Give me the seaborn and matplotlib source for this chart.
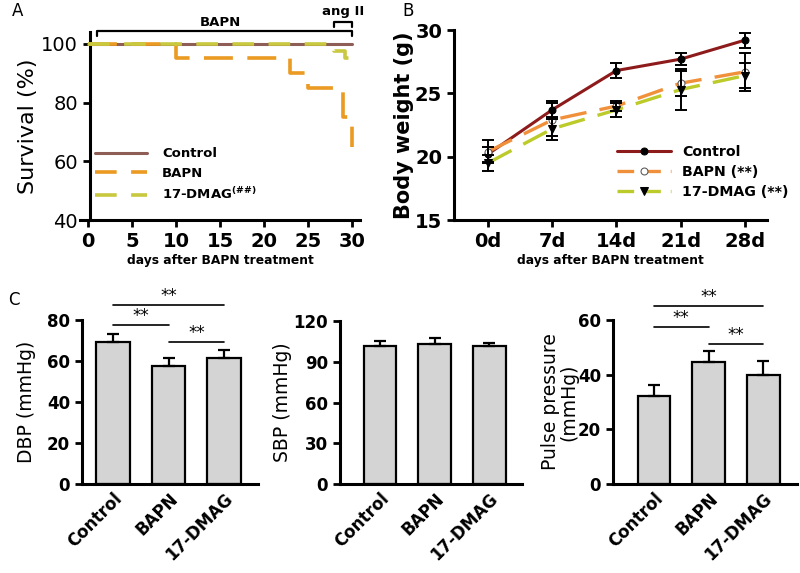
import numpy as np
import pandas as pd
import matplotlib
matplotlib.use("Agg")
import matplotlib.pyplot as plt
import seaborn as sns

# ---------------- data ----------------
# Panel A: survival (step curves)
ctrl_days = [0, 30]
ctrl_surv = [100, 100]
bapn_days = [0, 10, 23, 25, 29, 30]
bapn_surv = [100, 95, 90, 85, 75, 65]
dmag_days = [0, 28, 29.2, 29.6]
dmag_surv = [100, 97.5, 95, 95]

# Panel B: body weight
bw_days = [0, 7, 14, 21, 28]
bw_labels = ["0d", "7d", "14d", "21d", "28d"]
bw_ctrl = [20.2, 23.7, 26.8, 27.7, 29.2]
bw_ctrl_err = [0.6, 0.7, 0.6, 0.45, 0.6]
bw_bapn = [20.4, 22.9, 24.0, 25.8, 26.7]
bw_bapn_err = [0.9, 1.3, 0.4, 1.0, 1.5]
bw_dmag = [19.5, 22.2, 23.7, 25.3, 26.4]
bw_dmag_err = [0.6, 0.9, 0.55, 1.6, 1.0]

# Panel C: blood pressure
groups = ["Control", "BAPN", "17-DMAG"]
dbp = [69.5, 57.5, 61.5]
dbp_err = [3.5, 4.0, 3.8]
sbp = [101.5, 102.8, 101.7]
sbp_err = [3.8, 4.5, 2.4]
pp = [32.2, 44.8, 39.7]
pp_err = [4.2, 3.9, 5.3]

# ---------------- style ----------------
sns.set_style("ticks")
plt.rcParams["font.family"] = ["DejaVu Sans"]
plt.rcParams["mathtext.fontset"] = "custom"
plt.rcParams["mathtext.rm"] = "DejaVu Sans:bold"
plt.rcParams["mathtext.it"] = "DejaVu Sans:bold"
plt.rcParams["mathtext.bf"] = "DejaVu Sans:bold"
for k in ["text.color", "axes.labelcolor", "xtick.color", "ytick.color", "axes.edgecolor"]:
    plt.rcParams[k] = "black"
plt.rcParams["axes.linewidth"] = 2.2
plt.rcParams["xtick.major.width"] = 2.0
plt.rcParams["ytick.major.width"] = 2.0
plt.rcParams["xtick.major.size"] = 5
plt.rcParams["ytick.major.size"] = 5

W, H = 800, 573
fig = plt.figure(figsize=(W / 100, H / 100), dpi=100)


def px_axes(l, t, r, b):
    return fig.add_axes([l / W, 1 - b / H, (r - l) / W, (b - t) / H])


# ---------------- Panel A ----------------
axA = px_axes(80, 32, 360, 220)
ca, ba, da = "#8E5D55", "#EB9A22", "#C9C940"
dfA = pd.concat([
    pd.DataFrame({"day": ctrl_days, "surv": ctrl_surv, "grp": "Control"}),
    pd.DataFrame({"day": bapn_days, "surv": bapn_surv, "grp": "BAPN"}),
    pd.DataFrame({"day": dmag_days, "surv": dmag_surv, "grp": "17-DMAG"}),
])
sns.lineplot(data=dfA[dfA.grp == "Control"], x="day", y="surv", ax=axA,
             color=ca, lw=2.2, drawstyle="steps-post", label="Control", zorder=2)
sns.lineplot(data=dfA[dfA.grp == "BAPN"], x="day", y="surv", ax=axA,
             color=ba, lw=2.6, drawstyle="steps-post", label="BAPN", zorder=3)
sns.lineplot(data=dfA[dfA.grp == "17-DMAG"], x="day", y="surv", ax=axA,
             color=da, lw=2.6, drawstyle="steps-post", label="17-DMAG$^{(\\#\\#)}$", zorder=4)
axA.lines[1].set_dashes([8, 4])
axA.lines[2].set_dashes([6, 4])
axA.set_xlim(-0.91, 30.9)
axA.set_ylim(40, 104)
axA.set_xticks([0, 5, 10, 15, 20, 25, 30])
axA.set_yticks([40, 60, 80, 100])
axA.tick_params(labelsize=14)
for t in axA.get_xticklabels() + axA.get_yticklabels():
    t.set_fontweight("bold")
axA.set_xlabel("days after BAPN treatment", fontsize=8.8, fontweight="bold", labelpad=2)
axA.set_ylabel("Survival (%)", fontsize=16, labelpad=2)
sns.despine(ax=axA)
axA.spines["left"].set_position(("data", 0.2))
leg = axA.legend(loc="upper left", bbox_to_anchor=(0.01, 0.45), frameon=False,
                 fontsize=9.5, handlelength=4.0, handletextpad=1.1, labelspacing=0.5)
for t in leg.get_texts():
    t.set_fontweight("bold")
for h in leg.get_lines()[1:]:
    h.set_dashes([6, 4])


def bracket(x0, x1, ypx, h=5):
    xs = [x0, x0, x1, x1]
    ys = [ypx + h, ypx, ypx, ypx + h]
    fig.add_artist(plt.Line2D([v / W for v in xs], [1 - v / H for v in ys],
                              color="black", lw=1.6))


x_of = lambda d: 88 + d * 8.8
bracket(x_of(1), x_of(30), 31)
bracket(x_of(28), x_of(30), 22)
fig.text(x_of(15) / W, 1 - 23 / H, "BAPN", ha="center", va="center",
         fontsize=9.5, fontweight="bold")
fig.text(x_of(29) / W, 1 - 12 / H, "ang II", ha="center", va="center",
         fontsize=9.5, fontweight="bold")

# ---------------- Panel B ----------------
axB = px_axes(454, 30, 767, 220)
cb, bb, db = "#8E1B1B", "#F0903A", "#BCCB2A"
dfB = pd.DataFrame({"day": bw_days * 3,
                    "w": bw_ctrl + bw_bapn + bw_dmag,
                    "grp": ["Control"] * 5 + ["BAPN (**)"] * 5 + ["17-DMAG (**)"] * 5})
sns.lineplot(data=dfB[dfB.grp == "Control"], x="day", y="w", ax=axB, color=cb,
             lw=2.2, marker="o", markersize=5, markerfacecolor="black",
             markeredgecolor="black", label="Control", zorder=3)
sns.lineplot(data=dfB[dfB.grp == "BAPN (**)"], x="day", y="w", ax=axB, color=bb,
             lw=2.4, marker="o", markersize=5, markerfacecolor="white",
             markeredgecolor="#555555", label="BAPN (**)", zorder=4)
sns.lineplot(data=dfB[dfB.grp == "17-DMAG (**)"], x="day", y="w", ax=axB, color=db,
             lw=2.4, marker="v", markersize=6, markerfacecolor="black",
             markeredgecolor="black", label="17-DMAG (**)", zorder=5)
axB.lines[1].set_dashes([8, 4])
axB.lines[2].set_dashes([8, 4])
for vals, errs in [(bw_ctrl, bw_ctrl_err), (bw_bapn, bw_bapn_err), (bw_dmag, bw_dmag_err)]:
    axB.errorbar(bw_days, vals, yerr=errs, fmt="none", ecolor="black",
                 elinewidth=1.4, capsize=4, capthick=1.4, zorder=6)
axB.set_xlim(-3.7, 30.4)
axB.set_ylim(15, 30)
axB.set_xticks(bw_days)
axB.set_xticklabels(bw_labels)
axB.set_yticks([15, 20, 25, 30])
axB.tick_params(labelsize=14)
for t in axB.get_xticklabels() + axB.get_yticklabels():
    t.set_fontweight("bold")
axB.set_xlabel("days after BAPN treatment", fontsize=8.8, fontweight="bold", labelpad=2)
axB.set_ylabel("Body weight (g)", fontsize=15, fontweight="bold", labelpad=1)
sns.despine(ax=axB)
legB = axB.legend(loc="upper left", bbox_to_anchor=(0.48, 0.46), frameon=False,
                  fontsize=10.2, handlelength=3.8, handletextpad=0.8, labelspacing=0.4)
for t in legB.get_texts():
    t.set_fontweight("bold")
for h in legB.get_lines()[1:]:
    h.set_dashes([5, 3])

# ---------------- Panel C ----------------
def bar_panel(box, vals, errs, ylim, yticks, ylabel, xlim, sig=None, lpad=3):
    ax = px_axes(*box)
    df = pd.DataFrame({"g": groups, "v": vals})
    sns.barplot(data=df, x="g", y="v", ax=ax, color="#D4D4D4", edgecolor="black",
                linewidth=1.6, width=0.6, saturation=1)
    ax.errorbar(range(len(vals)), vals, yerr=[[0] * len(errs), errs], fmt="none",
                ecolor="black", elinewidth=1.6, capsize=4, capthick=1.6, zorder=5)
    ax.set_xlim(*xlim)
    ax.set_ylim(*ylim)
    ax.set_yticks(yticks)
    ax.set_xlabel("")
    ax.set_ylabel(ylabel, fontsize=13.5, labelpad=lpad)
    ax.tick_params(axis="y", labelsize=12)
    ax.tick_params(axis="x", labelsize=12, length=0, pad=4)
    for t in ax.get_yticklabels():
        t.set_fontweight("bold")
    ax.set_xticks(range(len(groups)))
    ax.set_xticklabels(groups, rotation=45, ha="right", rotation_mode="anchor",
                       fontweight="bold")
    sns.despine(ax=ax)
    if sig:
        for (i, j, yv) in sig:
            ax.plot([i, j], [yv, yv], color="black", lw=1.2, clip_on=False)
            ax.text((i + j) / 2, yv, "**", ha="center", va="bottom", fontsize=12,
                    clip_on=False)
    return ax


axC1 = bar_panel((82, 320, 258, 484), dbp, dbp_err, (0, 80), [0, 20, 40, 60, 80],
                 "DBP (mmHg)", (-0.56, 2.61),
                 sig=[(0, 2, 87.1), (0, 1, 77.4), (1, 2, 69.3)], lpad=8)
axC2 = bar_panel((340, 321, 522, 484), sbp, sbp_err, (0, 120), [0, 30, 60, 90, 120],
                 "SBP (mmHg)", (-0.73, 2.6), lpad=1)
axC3 = bar_panel((613, 320, 797, 484), pp, pp_err, (0, 60), [0, 20, 40, 60],
                 "Pulse pressure\n(mmHg)", (-0.75, 2.62),
                 sig=[(0, 2, 65.2), (0, 1, 57.3), (1, 2, 51.1)], lpad=0)
axC3.yaxis.label.set_linespacing(0.95)

# panel letters
fig.text(12 / W, 1 - 11 / H, "A", fontsize=12, ha="left", va="center")
fig.text(402 / W, 1 - 11 / H, "B", fontsize=12, ha="left", va="center")
fig.text(8 / W, 1 - 300 / H, "C", fontsize=12, ha="left", va="center")

fig.savefig("out.png", dpi=100)
